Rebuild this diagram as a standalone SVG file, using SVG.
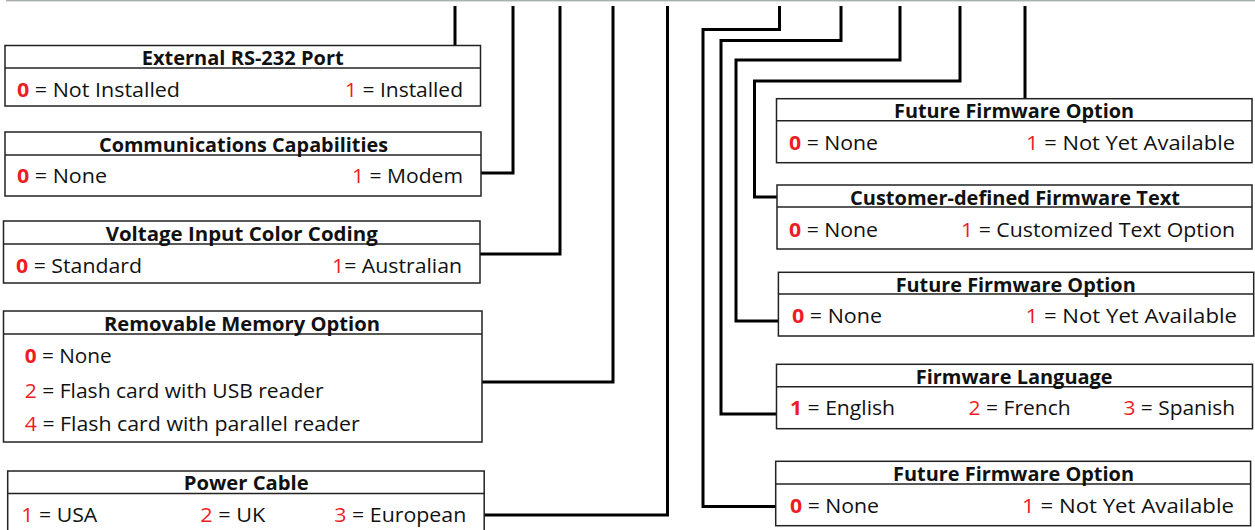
<svg xmlns="http://www.w3.org/2000/svg" width="1255" height="530" viewBox="0 0 1255 530">
<style>
.box{fill:#fff;stroke:#222;stroke-width:1.5}
.div{stroke:#222;stroke-width:1.5}
.t{font-family:"Open Sans","Liberation Sans",sans-serif;font-size:19px;font-weight:bold;fill:#111;text-anchor:start}
.b{font-family:"Open Sans","Liberation Sans",sans-serif;font-size:20px;fill:#111}
.r{fill:#ed1c24}
.rb{fill:#ed1c24;font-weight:bold}
.c{fill:none;stroke:#000;stroke-width:3}
</style>
<rect x="6" y="0" width="1249" height="1.4" fill="#a7aeac"/>
<g id="connectors">
<path class="c" d="M455,6 V45"/>
<path class="c" d="M481,173 H513 V6"/>
<path class="c" d="M480,254 H560 V6"/>
<path class="c" d="M482,382 H613 V6"/>
<path class="c" d="M484,515 H667.5 V6"/>
<path class="c" d="M776,506.5 H703 V29.5 H779.5 V6"/>
<path class="c" d="M776.5,414 H721 V40.5 H841 V6"/>
<path class="c" d="M778,321 H736 V60 H900 V6"/>
<path class="c" d="M777,197 H754.5 V81 H960 V6"/>
<path class="c" d="M1025,98.7 V6"/>
</g>
<g id="rs232">
<rect class="box" x="5" y="45.5" width="475.5" height="60.5"/>
<line class="div" x1="5" y1="68" x2="480.5" y2="68"/>
<text class="t" x="141.7" y="65" textLength="202" lengthAdjust="spacingAndGlyphs">External RS-232 Port</text>
<text class="b" x="17" y="97" textLength="163" lengthAdjust="spacingAndGlyphs"><tspan class="rb">0</tspan> = Not Installed</text>
<text class="b" x="345" y="97" textLength="118" lengthAdjust="spacingAndGlyphs"><tspan class="r">1</tspan> = Installed</text>
</g>
<g id="comm">
<rect class="box" x="5" y="132" width="476" height="64"/>
<line class="div" x1="5" y1="155" x2="481" y2="155"/>
<text class="t" x="99" y="152" textLength="289" lengthAdjust="spacingAndGlyphs">Communications Capabilities</text>
<text class="b" x="17" y="183" textLength="90" lengthAdjust="spacingAndGlyphs"><tspan class="rb">0</tspan> = None</text>
<text class="b" x="352" y="183" textLength="111" lengthAdjust="spacingAndGlyphs"><tspan class="r">1</tspan> = Modem</text>
</g>
<g id="voltage">
<rect class="box" x="3.5" y="221" width="476.5" height="62"/>
<line class="div" x1="3.5" y1="244" x2="480" y2="244"/>
<text class="t" x="105.7" y="240.5" textLength="272" lengthAdjust="spacingAndGlyphs">Voltage Input Color Coding</text>
<text class="b" x="16" y="272.5" textLength="126" lengthAdjust="spacingAndGlyphs"><tspan class="rb">0</tspan> = Standard</text>
<text class="b" x="332" y="272.5" textLength="130" lengthAdjust="spacingAndGlyphs"><tspan class="r">1</tspan>= Australian</text>
</g>
<g id="memory">
<rect class="box" x="3.5" y="311" width="478.5" height="131"/>
<line class="div" x1="3.5" y1="334" x2="482" y2="334"/>
<text class="t" x="104" y="330.5" textLength="276" lengthAdjust="spacingAndGlyphs">Removable Memory Option</text>
<text class="b" x="24.7" y="362.5" textLength="87" lengthAdjust="spacingAndGlyphs"><tspan class="rb">0</tspan> = None</text>
<text class="b" x="24.7" y="397.5" textLength="299" lengthAdjust="spacingAndGlyphs"><tspan class="r">2</tspan> = Flash card with USB reader</text>
<text class="b" x="24.7" y="431" textLength="335" lengthAdjust="spacingAndGlyphs"><tspan class="r">4</tspan> = Flash card with parallel reader</text>
</g>
<g id="power">
<rect class="box" x="7.7" y="471" width="476.5" height="62"/>
<line class="div" x1="7.7" y1="493.5" x2="484.2" y2="493.5"/>
<text class="t" x="183.7" y="490" textLength="125" lengthAdjust="spacingAndGlyphs">Power Cable</text>
<text class="b" x="21.3" y="522" textLength="76" lengthAdjust="spacingAndGlyphs"><tspan class="r">1</tspan> = USA</text>
<text class="b" x="200.3" y="522" textLength="65" lengthAdjust="spacingAndGlyphs"><tspan class="r">2</tspan> = UK</text>
<text class="b" x="334.3" y="522" textLength="132" lengthAdjust="spacingAndGlyphs"><tspan class="r">3</tspan> = European</text>
</g>
<g id="ffo1">
<rect class="box" x="776.5" y="98.7" width="475.5" height="64"/>
<line class="div" x1="776.5" y1="120.7" x2="1252" y2="120.7"/>
<text class="t" x="894" y="118" textLength="240" lengthAdjust="spacingAndGlyphs">Future Firmware Option</text>
<text class="b" x="789" y="150" textLength="89" lengthAdjust="spacingAndGlyphs"><tspan class="rb">0</tspan> = None</text>
<text class="b" x="1026" y="150" textLength="209" lengthAdjust="spacingAndGlyphs"><tspan class="r">1</tspan> = Not Yet Available</text>
</g>
<g id="customer">
<rect class="box" x="777" y="185" width="475" height="64"/>
<line class="div" x1="777" y1="207" x2="1252" y2="207"/>
<text class="t" x="850" y="204.5" textLength="330" lengthAdjust="spacingAndGlyphs">Customer-defined Firmware Text</text>
<text class="b" x="789" y="237" textLength="89" lengthAdjust="spacingAndGlyphs"><tspan class="rb">0</tspan> = None</text>
<text class="b" x="961" y="237" textLength="274" lengthAdjust="spacingAndGlyphs"><tspan class="r">1</tspan> = Customized Text Option</text>
</g>
<g id="ffo2">
<rect class="box" x="778.4" y="272.3" width="475.3" height="63.7"/>
<line class="div" x1="778.4" y1="294" x2="1253.7" y2="294"/>
<text class="t" x="895.7" y="292" textLength="240" lengthAdjust="spacingAndGlyphs">Future Firmware Option</text>
<text class="b" x="792" y="323" textLength="90" lengthAdjust="spacingAndGlyphs"><tspan class="rb">0</tspan> = None</text>
<text class="b" x="1025.5" y="323" textLength="211.5" lengthAdjust="spacingAndGlyphs"><tspan class="r">1</tspan> = Not Yet Available</text>
</g>
<g id="language">
<rect class="box" x="776.5" y="364.3" width="476" height="64.4"/>
<line class="div" x1="776.5" y1="386.7" x2="1252.5" y2="386.7"/>
<text class="t" x="915.7" y="383.5" textLength="197" lengthAdjust="spacingAndGlyphs">Firmware Language</text>
<text class="b" x="790" y="415" textLength="105" lengthAdjust="spacingAndGlyphs"><tspan class="rb">1</tspan> = English</text>
<text class="b" x="968.6" y="415" textLength="102" lengthAdjust="spacingAndGlyphs"><tspan class="r">2</tspan> = French</text>
<text class="b" x="1123.5" y="415" textLength="111.5" lengthAdjust="spacingAndGlyphs"><tspan class="r">3</tspan> = Spanish</text>
</g>
<g id="ffo3">
<rect class="box" x="775.7" y="461.3" width="474.9" height="64.4"/>
<line class="div" x1="775.7" y1="484" x2="1250.6" y2="484"/>
<text class="t" x="893" y="481" textLength="241" lengthAdjust="spacingAndGlyphs">Future Firmware Option</text>
<text class="b" x="790" y="513" textLength="89" lengthAdjust="spacingAndGlyphs"><tspan class="rb">0</tspan> = None</text>
<text class="b" x="1022" y="513" textLength="212" lengthAdjust="spacingAndGlyphs"><tspan class="r">1</tspan> = Not Yet Available</text>
</g>
</svg>
